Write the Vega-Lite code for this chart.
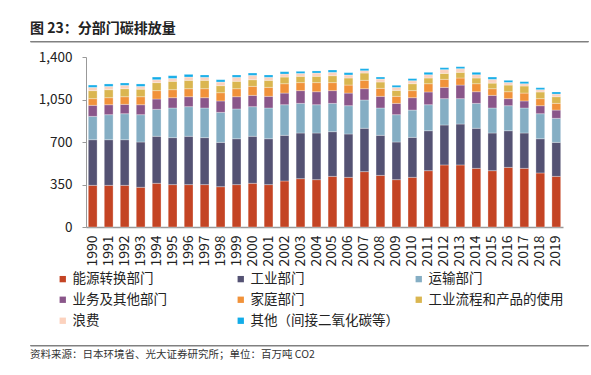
{
  "$schema": "https://vega.github.io/schema/vega-lite/v6.json",
  "background": "white",
  "padding": {"left": 29, "top": 21, "right": 0, "bottom": 0},
  "autosize": {"type": "pad"},
  "config": {
    "view": {"stroke": null},
    "font": "Noto Sans CJK SC"
  },
  "datasets": {
    "emissions": [
      {"year": "1990", "能源转换部门": 343, "工业部门": 376, "运输部门": 192, "业务及其他部门": 91, "家庭部门": 55, "工业流程和产品的使用": 66, "浪费": 27, "其他（间接二氧化碳等）": 19},
      {"year": "1991", "能源转换部门": 343, "工业部门": 376, "运输部门": 206, "业务及其他部门": 82, "家庭部门": 58, "工业流程和产品的使用": 66, "浪费": 27, "其他（间接二氧化碳等）": 20},
      {"year": "1992", "能源转换部门": 343, "工业部门": 376, "运输部门": 214, "业务及其他部门": 77, "家庭部门": 63, "工业流程和产品的使用": 66, "浪费": 28, "其他（间接二氧化碳等）": 19},
      {"year": "1993", "能源转换部门": 327, "工业部门": 373, "运输部门": 225, "业务及其他部门": 82, "家庭部门": 66, "工业流程和产品的使用": 62, "浪费": 23, "其他（间接二氧化碳等）": 20},
      {"year": "1994", "能源转换部门": 360, "工业部门": 387, "运输部门": 222, "业务及其他部门": 85, "家庭部门": 69, "工业流程和产品的使用": 66, "浪费": 24, "其他（间接二氧化碳等）": 22},
      {"year": "1995", "能源转换部门": 349, "工业部门": 387, "运输部门": 244, "业务及其他部门": 85, "家庭部门": 66, "工业流程和产品的使用": 69, "浪费": 24, "其他（间接二氧化碳等）": 22},
      {"year": "1996", "能源转换部门": 349, "工业部门": 398, "运输部门": 244, "业务及其他部门": 82, "家庭部门": 66, "工业流程和产品的使用": 69, "浪费": 27, "其他（间接二氧化碳等）": 22},
      {"year": "1997", "能源转换部门": 349, "工业部门": 387, "运输部门": 244, "业务及其他部门": 85, "家庭部门": 74, "工业流程和产品的使用": 69, "浪费": 25, "其他（间接二氧化碳等）": 19},
      {"year": "1998", "能源转换部门": 332, "工业部门": 365, "运输部门": 247, "业务及其他部门": 94, "家庭部门": 68, "工业流程和产品的使用": 58, "浪费": 30, "其他（间接二氧化碳等）": 19},
      {"year": "1999", "能源转换部门": 349, "工业部门": 378, "运输部门": 245, "业务及其他部门": 101, "家庭部门": 66, "工业流程和产品的使用": 61, "浪费": 33, "其他（间接二氧化碳等）": 19},
      {"year": "2000", "能源转换部门": 360, "工业部门": 387, "运输部门": 244, "业务及其他部门": 93, "家庭部门": 74, "工业流程和产品的使用": 55, "浪费": 36, "其他（间接二氧化碳等）": 19},
      {"year": "2001", "能源转换部门": 349, "工业部门": 378, "运输部门": 253, "业务及其他部门": 96, "家庭部门": 74, "工业流程和产品的使用": 58, "浪费": 25, "其他（间接二氧化碳等）": 19},
      {"year": "2002", "能源转换部门": 379, "工业部门": 376, "运输部门": 252, "业务及其他部门": 96, "家庭部门": 77, "工业流程和产品的使用": 55, "浪费": 25, "其他（间接二氧化碳等）": 19},
      {"year": "2003", "能源转换部门": 398, "工业部门": 376, "运输部门": 244, "业务及其他部门": 105, "家庭部门": 66, "工业流程和产品的使用": 52, "浪费": 24, "其他（间接二氧化碳等）": 17},
      {"year": "2004", "能源转换部门": 390, "工业部门": 384, "运输部门": 233, "业务及其他部门": 107, "家庭部门": 75, "工业流程和产品的使用": 52, "浪费": 27, "其他（间接二氧化碳等）": 17},
      {"year": "2005", "能源转换部门": 417, "工业部门": 368, "运输部门": 233, "业务及其他部门": 105, "家庭部门": 66, "工业流程和产品的使用": 57, "浪费": 28, "其他（间接二氧化碳等）": 19},
      {"year": "2006", "能源转换部门": 409, "工业部门": 357, "运输部门": 233, "业务及其他部门": 104, "家庭部门": 66, "工业流程和产品的使用": 58, "浪费": 25, "其他（间接二氧化碳等）": 19},
      {"year": "2007", "能源转换部门": 456, "工业部门": 357, "运输部门": 233, "业务及其他部门": 93, "家庭部门": 69, "工业流程和产品的使用": 60, "浪费": 19, "其他（间接二氧化碳等）": 17},
      {"year": "2008", "能源转换部门": 425, "工业部门": 330, "运输部门": 225, "业务及其他部门": 96, "家庭部门": 66, "工业流程和产品的使用": 52, "浪费": 25, "其他（间接二氧化碳等）": 16},
      {"year": "2009", "能源转换部门": 390, "工业部门": 310, "运输部门": 225, "业务及其他部门": 93, "家庭部门": 58, "工业流程和产品的使用": 49, "浪费": 25, "其他（间接二氧化碳等）": 17},
      {"year": "2010", "能源转换部门": 409, "工业部门": 329, "运输部门": 225, "业务及其他部门": 102, "家庭部门": 58, "工业流程和产品的使用": 57, "浪费": 25, "其他（间接二氧化碳等）": 17},
      {"year": "2011", "能源转换部门": 464, "工业部门": 329, "运输部门": 214, "业务及其他部门": 105, "家庭部门": 68, "工业流程和产品的使用": 47, "浪费": 27, "其他（间接二氧化碳等）": 20},
      {"year": "2012", "能源转换部门": 511, "工业部门": 329, "运输部门": 217, "业务及其他部门": 93, "家庭部门": 66, "工业流程和产品的使用": 49, "浪费": 31, "其他（间接二氧化碳等）": 16},
      {"year": "2013", "能源转换部门": 511, "工业部门": 337, "运输部门": 209, "业务及其他部门": 112, "家庭部门": 58, "工业流程和产品的使用": 47, "浪费": 30, "其他（间接二氧化碳等）": 16},
      {"year": "2014", "能源转换部门": 483, "工业部门": 330, "运输部门": 205, "业务及其他部门": 96, "家庭部门": 66, "工业流程和产品的使用": 47, "浪费": 27, "其他（间接二氧化碳等）": 20},
      {"year": "2015", "能源转换部门": 464, "工业部门": 310, "运输部门": 206, "业务及其他部门": 104, "家庭部门": 55, "工业流程和产品的使用": 46, "浪费": 31, "其他（间接二氧化碳等）": 19},
      {"year": "2016", "能源转换部门": 491, "工业部门": 302, "运输部门": 206, "业务及其他部门": 58, "家庭部门": 57, "工业流程和产品的使用": 55, "浪费": 22, "其他（间接二氧化碳等）": 17},
      {"year": "2017", "能源转换部门": 483, "工业部门": 291, "运输部门": 206, "业务及其他部门": 58, "家庭部门": 65, "工业流程和产品的使用": 58, "浪费": 19, "其他（间接二氧化碳等）": 17},
      {"year": "2018", "能源转换部门": 445, "工业部门": 282, "运输部门": 206, "业务及其他部门": 66, "家庭部门": 58, "工业流程和产品的使用": 55, "浪费": 19, "其他（间接二氧化碳等）": 16},
      {"year": "2019", "能源转换部门": 417, "工业部门": 280, "运输部门": 198, "业务及其他部门": 68, "家庭部门": 55, "工业流程和产品的使用": 55, "浪费": 22, "其他（间接二氧化碳等）": 17}
    ]
  },
  "data": {"name": "emissions"},
  "spacing": 8,
  "resolve": {"scale": {"x": "independent", "y": "independent", "color": "independent"}, "legend": {"color": "independent"}},
  "vconcat": [
    {
      "width": 558,
      "height": 0.5,
      "view": {"stroke": "#808080", "strokeWidth": 1, "fill": "#808080"},
      "title": {"text": "图 23：分部门碳排放量", "orient": "top", "anchor": "start", "fontSize": 14, "fontWeight": "bold", "color": "#222222", "offset": 5},
      "mark": {"type": "point", "size": 0, "strokeWidth": 0, "opacity": 0},
      "encoding": {}
    },
    {
      "spacing": 7,
      "resolve": {"scale": {"x": "independent", "y": "independent", "color": "independent"}, "legend": {"color": "independent"}},
      "hconcat": [
        {
          "width": 1,
          "height": 1,
          "mark": {"type": "point", "size": 0, "strokeWidth": 0, "opacity": 0},
          "encoding": {}
        },
        {
          "width": 477,
          "height": 170,
          "transform": [
            {"fold": ["能源转换部门", "工业部门", "运输部门", "业务及其他部门", "家庭部门", "工业流程和产品的使用", "浪费", "其他（间接二氧化碳等）"], "as": ["sector", "amount"]},
            {"window": [{"op": "row_number", "as": "stack_idx"}], "groupby": ["year"]}
          ],
          "mark": {"type": "bar", "stroke": "#ffffff", "strokeWidth": 0.6, "strokeOpacity": 0.5},
          "encoding": {
            "x": {"field": "year", "type": "ordinal", "scale": {"paddingInner": 0.45, "paddingOuter": 0.144},
              "axis": {"title": null, "labelAngle": -90, "labelFontSize": 14, "labelColor": "#222222", "ticks": false, "labelPadding": 8, "domainColor": "#999999", "domainWidth": 1.5}},
            "y": {"field": "amount", "type": "quantitative", "stack": "zero", "scale": {"domain": [0, 1400], "nice": false},
              "axis": {"title": null, "values": [0, 350, 700, 1050, 1400], "labelExpr": "format(datum.value, ',')", "grid": false, "labelFontSize": 13.5, "labelColor": "#222222", "tickSize": 4, "tickColor": "#999999", "domainColor": "#999999", "labelPadding": 10}},
            "order": {"field": "stack_idx", "type": "quantitative", "sort": "ascending"},
            "color": {"field": "sector", "type": "nominal",
              "scale": {"domain": ["能源转换部门", "工业部门", "运输部门", "业务及其他部门", "家庭部门", "工业流程和产品的使用", "浪费", "其他（间接二氧化碳等）"],
                "range": ["#C44424", "#545273", "#85AEC4", "#8A568A", "#F1923A", "#DAB650", "#FCD2BE", "#12ACE8"]},
              "legend": {"title": null, "orient": "none", "legendX": -38, "legendY": 207, "padding": 8, "direction": "horizontal", "columns": 3, "gridAlign": "all", "columnPadding": 13, "rowPadding": 6, "symbolType": "square", "symbolSize": 40, "symbolStrokeWidth": 0, "labelFontSize": 13.5, "labelColor": "#222222", "labelOffset": 3, "labelLimit": 220}
            }
          }
        }
      ]
    },
    {
      "width": 558,
      "height": 0.5,
      "view": {"stroke": "#808080", "strokeWidth": 1, "fill": "#808080"},
      "title": {"text": "资料来源：日本环境省、光大证券研究所；单位：百万吨 CO2", "orient": "bottom", "anchor": "start", "fontSize": 10.5, "fontWeight": "normal", "color": "#333333", "offset": 4},
      "mark": {"type": "point", "size": 0, "strokeWidth": 0, "opacity": 0},
      "encoding": {}
    }
  ]
}
